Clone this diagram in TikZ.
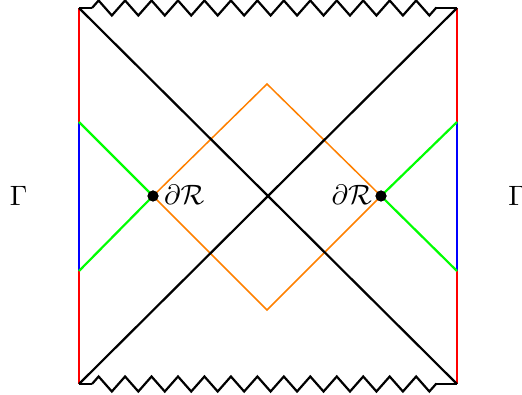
\documentclass[tikz,border=0pt]{standalone}
\usepackage{graphicx}
\usetikzlibrary{decorations.pathmorphing}
\newcommand{\gtxt}[1]{\scalebox{2.8}{#1}}
\newcommand{\rtxt}[1]{\scalebox{2.8}{#1}}
\begin{document}
\begin{tikzpicture}[x=1pt,y=-1pt,
  blk/.style={black,line width=2.2pt},
  bnd/.style={line width=2.2pt},
  zz/.style={blk,decorate,decoration={zigzag,segment length=26.46pt,amplitude=7.5pt}},
  dotst/.style={circle,fill=black,inner sep=0pt,minimum size=11pt},
  lbl/.style={inner sep=0pt}]
\useasboundingbox (0,0) rectangle (522,395);
% corners
\coordinate (TL) at (79,8);
\coordinate (TR) at (457,8);
\coordinate (BL) at (79,384);
\coordinate (BR) at (457,384);
\coordinate (TLz) at (92,8);
\coordinate (TRz) at (436,8);
\coordinate (BLz) at (92,384);
\coordinate (BRz) at (436,384);
\coordinate (L1) at (79,122);
\coordinate (L2) at (79,271);
\coordinate (R1) at (457,122);
\coordinate (R2) at (457,271);
\coordinate (Dt) at (267,84);
\coordinate (Db) at (267,310);
% boundaries
\draw[bnd,red] (TL) -- (L1) (L2) -- (BL);
\draw[bnd,red] (TR) -- (R1) (R2) -- (BR);
\draw[bnd,blue] (L1) -- (L2);
\draw[bnd,blue] (R1) -- (R2);
% orange diamond
\node[dotst] (PL) at (153,196) {};
\node[dotst] (PR) at (381,196) {};
\draw[orange,line width=1.5pt] (PL.center) -- (Dt) -- (PR.center) -- (Db) -- cycle;
% green
\draw[line width=2.2pt,green] (L1) -- (PL.center) -- (L2);
\draw[line width=2.2pt,green] (R1) -- (PR.center) -- (R2);
% diagonals
\draw[blk] (TL) -- (BR);
\draw[blk] (TR) -- (BL);
% singularities
\draw[blk] (TL) -- (TLz);
\draw[zz] (TLz) -- (TRz);
\draw[blk] (TRz) -- (TR);
\draw[blk] (BL) -- (BLz);
\draw[zz] (BLz) -- (BRz);
\draw[blk] (BRz) -- (BR);
\node[dotst] at (PL) {};
\node[dotst] at (PR) {};
% labels
\node[lbl,anchor=base west] (lL) at (164,205) {\rtxt{$\partial\mathcal{R}$}};
\node[lbl,anchor=base east] (lR) at (372,205) {\rtxt{$\partial\mathcal{R}$}};
\node[lbl,anchor=base] (gL) at (18.5,206) {\gtxt{$\Gamma$}};
\node[lbl,anchor=base] (gR) at (517,206) {\gtxt{$\Gamma$}};
\end{tikzpicture}
\end{document}
